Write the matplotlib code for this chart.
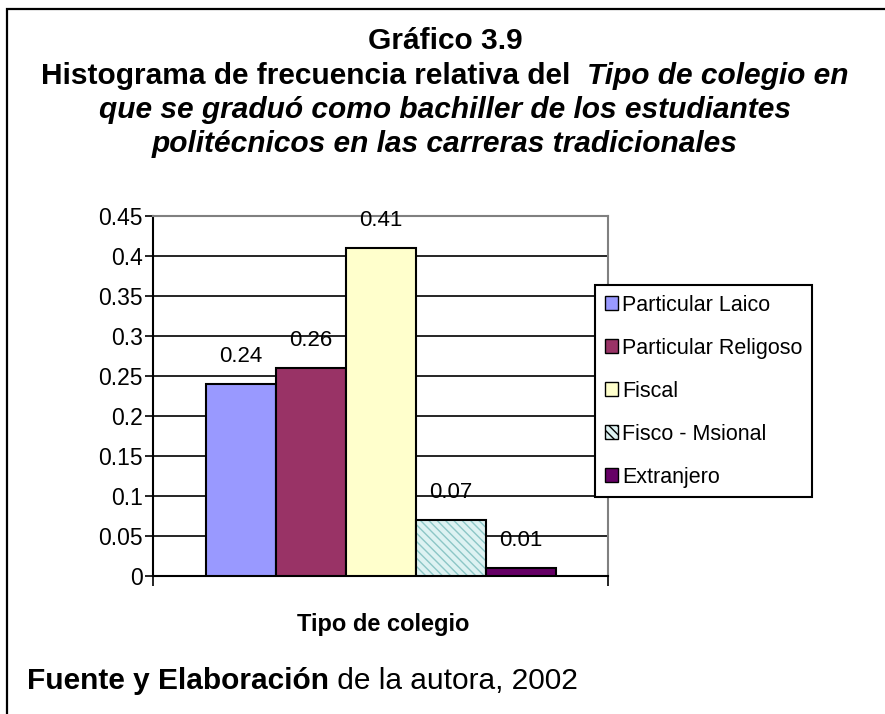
import matplotlib
matplotlib.use("Agg")
import matplotlib.pyplot as plt
from matplotlib.patches import Rectangle, Patch

plt.rcParams["font.family"] = ["Liberation Sans", "DejaVu Sans"]

# Datos del gráfico
categorias = ["Particular Laico", "Particular Religoso", "Fiscal",
              "Fisco - Msional", "Extranjero"]
frecuencias = [0.24, 0.26, 0.41, 0.07, 0.01]
etiquetas = ["0.24", "0.26", "0.41", "0.07", "0.01"]
colores = ["#9999FF", "#993366", "#FFFFCC", "#DDF2F2", "#660066"]
ticks_y = [0, 0.05, 0.1, 0.15, 0.2, 0.25, 0.3, 0.35, 0.4, 0.45]
tick_labels_y = ["0", "0.05", "0.1", "0.15", "0.2", "0.25", "0.3", "0.35", "0.4", "0.45"]

W, H = 885, 714
fig = plt.figure(figsize=(W / 100, H / 100), dpi=100)

def fx(px):
    return px / W

def fy(py):
    return 1 - py / H

# Marco exterior (cortado a la derecha y abajo)
fig.add_artist(Rectangle((fx(7), fy(740)), fx(900), 740 / H - 9 / H,
                         transform=fig.transFigure, fill=False,
                         edgecolor="black", linewidth=1.6))

# Títulos con partes en negrita y negrita cursiva
lineas_titulo = [
    [("Gráfico 3.9", "normal")],
    [("Histograma de frecuencia relativa del  ", "normal"),
     ("Tipo de colegio en", "italic")],
    [("que se graduó como bachiller de los estudiantes", "italic")],
    [("politécnicos en las carreras tradicionales", "italic")],
]
y_titulo = [41, 76, 110, 144]

fig.canvas.draw()
renderer = fig.canvas.get_renderer()

def texto_mixto(partes, xc, yc, size, centrado=True):
    textos = []
    for s, estilo in partes:
        t = fig.text(0, fy(yc), s, fontsize=size, fontweight="bold",
                     fontstyle="italic" if estilo == "italic" else "normal",
                     va="center", ha="left")
        textos.append(t)
    anchos = [t.get_window_extent(renderer).width for t in textos]
    x = xc - sum(anchos) / 2 if centrado else xc
    for t, a in zip(textos, anchos):
        t.set_x(fx(x))
        x += a

for partes, yc in zip(lineas_titulo, y_titulo):
    texto_mixto(partes, 445, yc, 21.5)

# Área del gráfico
ax = fig.add_axes([fx(153), fy(576), fx(608) - fx(153), (576 - 216) / H])
ax.set_ylim(0, 0.45)
ax.set_xlim(-3.25, 3.25)

posiciones = [-2, -1, 0, 1, 2]
for i, (p, v, c) in enumerate(zip(posiciones, frecuencias, colores)):
    if categorias[i] == "Fisco - Msional":
        ax.bar(p, v, width=1, color=c, edgecolor="#8CC6C6", hatch="\\\\\\\\",
               linewidth=0, zorder=3)
        ax.bar(p, v, width=1, fill=False, edgecolor="black", linewidth=1.5, zorder=4)
    else:
        ax.bar(p, v, width=1, color=c, edgecolor="black", linewidth=1.5, zorder=3)
    ax.annotate(etiquetas[i], (p, v), xytext=(0, 27), textcoords="offset pixels",
                ha="center", va="center", fontsize=16, zorder=5)

ax.set_yticks(ticks_y)
ax.set_yticklabels(tick_labels_y, fontsize=16.5)
ax.set_xticks([-3.25, 3.25])
ax.set_xticklabels([])
ax.tick_params(axis="y", direction="out", length=5.5, width=1.2, pad=2)
ax.tick_params(axis="x", direction="out", length=7, width=1.2)
ax.grid(axis="y", color="black", linewidth=1.2, zorder=0)
ax.set_axisbelow(True)

for lado in ["top", "right"]:
    ax.spines[lado].set_color("#808080")
    ax.spines[lado].set_linewidth(1.5)
for lado in ["left", "bottom"]:
    ax.spines[lado].set_color("black")
    ax.spines[lado].set_linewidth(1.5)

# Leyenda
handles = []
for c, nombre in zip(colores, categorias):
    if nombre == "Fisco - Msional":
        handles.append(Patch(facecolor=c, edgecolor="black", hatch="\\\\\\\\", label=nombre))
    else:
        handles.append(Patch(facecolor=c, edgecolor="black", label=nombre))
leg = fig.legend(handles=handles, loc="upper left", bbox_to_anchor=(fx(595), fy(285)),
                 fontsize=15.5, frameon=True, fancybox=False, edgecolor="black",
                 framealpha=1, borderpad=0.45, labelspacing=1.02, handlelength=0.6,
                 handleheight=0.6, handletextpad=0.2, borderaxespad=0)
leg.get_frame().set_linewidth(1.5)

# Etiqueta del eje x
fig.text(fx(383), fy(625), "Tipo de colegio", fontsize=17, fontweight="bold",
         ha="center", va="center")

# Fuente
f1 = fig.text(fx(27), fy(681), "Fuente y Elaboración", fontsize=21.5,
              fontweight="bold", ha="left", va="center")
ancho = f1.get_window_extent(renderer).width
fig.text(fx(27 + ancho), fy(681), " de la autora, 2002", fontsize=21.5,
         ha="left", va="center")

fig.savefig("out.png", dpi=100)
